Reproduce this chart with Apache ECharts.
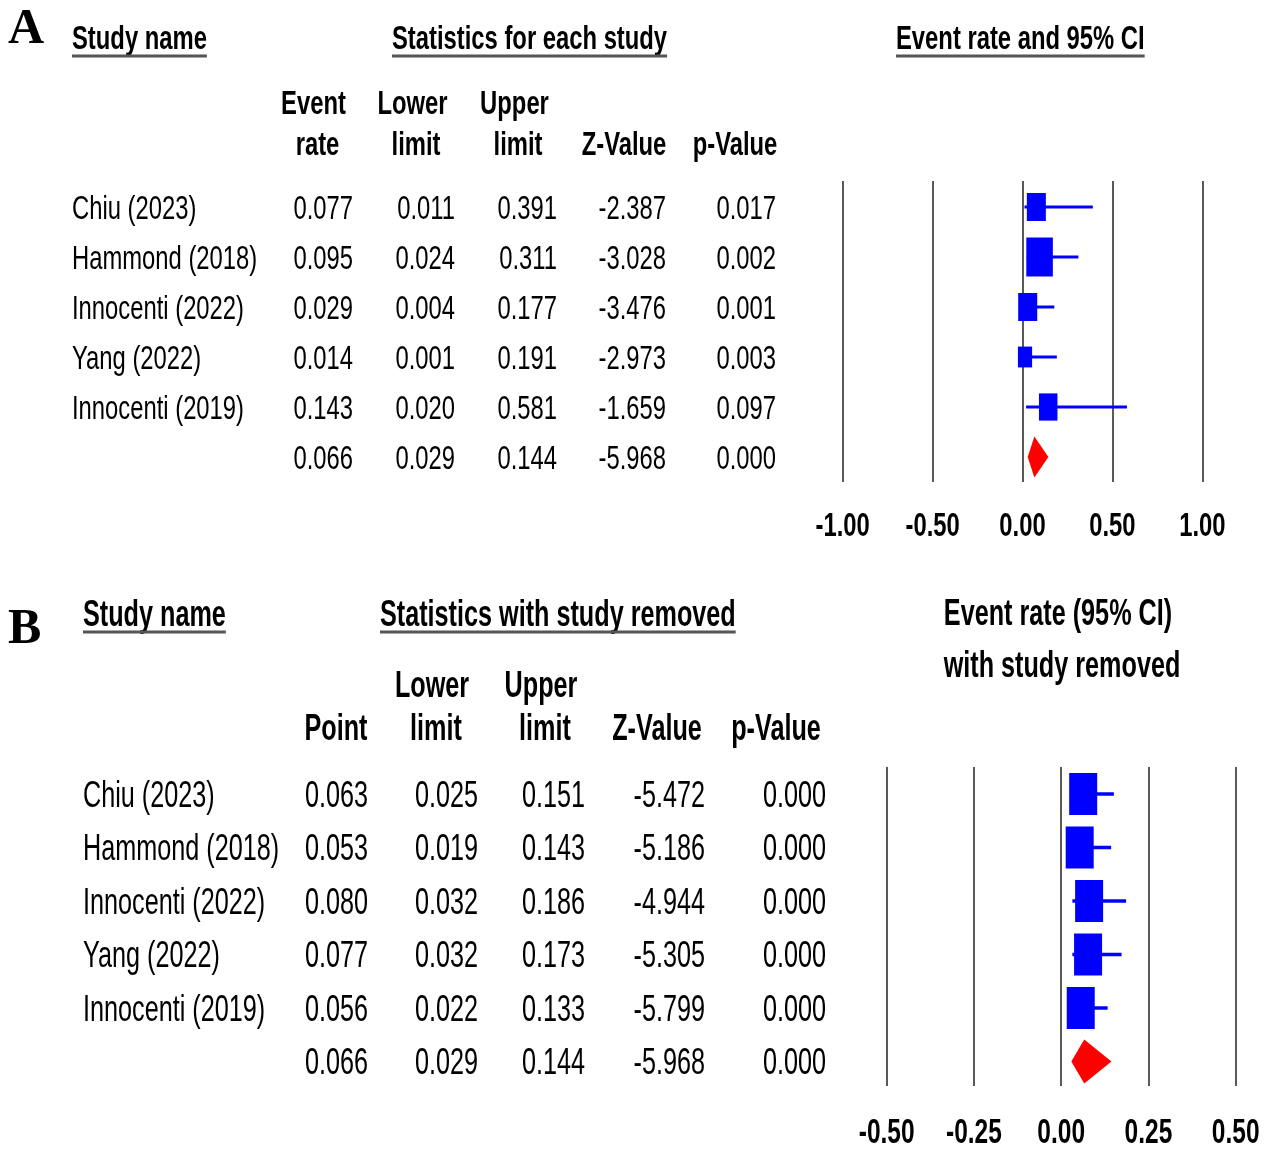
<!DOCTYPE html>
<html>
<head>
<meta charset="utf-8">
<script src="https://cdn.jsdelivr.net/npm/echarts@6/dist/echarts.min.js"></script>
<style>
html,body{margin:0;padding:0;background:#fff;}
#chart{width:1268px;height:1154px;}
</style>
</head>
<body>
<div id="chart"></div>
<script>
// ---------------- data ----------------
const studies = ['Chiu (2023)', 'Hammond (2018)', 'Innocenti (2022)', 'Yang (2022)', 'Innocenti (2019)'];

// Panel A: statistics for each study
const rateA  = [0.077, 0.095, 0.029, 0.014, 0.143];
const lowerA = [0.011, 0.024, 0.004, 0.001, 0.020];
const upperA = [0.391, 0.311, 0.177, 0.191, 0.581];
const zA     = [-2.387, -3.028, -3.476, -2.973, -1.659];
const pA     = [0.017, 0.002, 0.001, 0.003, 0.097];
const weightA = [18, 35, 18, 10, 17];          // relative weight (%)
const pooledA = [0.066, 0.029, 0.144, -5.968, 0.000]; // point, lower, upper, z, p

// Panel B: statistics with study removed
const pointB = [0.063, 0.053, 0.080, 0.077, 0.056];
const lowerB = [0.025, 0.019, 0.032, 0.032, 0.022];
const upperB = [0.151, 0.143, 0.186, 0.173, 0.133];
const zB     = [-5.472, -5.186, -4.944, -5.305, -5.799];
const pB     = [0.000, 0.000, 0.000, 0.000, 0.000];
const pooledB = [0.066, 0.029, 0.144, -5.968, 0.000];

const ticksA = [-1.00, -0.50, 0.00, 0.50, 1.00];
const ticksB = [-0.50, -0.25, 0.00, 0.25, 0.50];

// ---------------- layout / style ----------------
const FONT = "'Liberation Sans', Arial, Helvetica, sans-serif";
const SERIF = "'Liberation Serif', 'Times New Roman', serif";
const SX = 0.7;
const DY = 3;
const BLUE = '#0000ff', RED = '#ff0000', GRID = '#5a5a5a', INK = '#000';

const L = {
  A: { top: 181, height: 301, ymin: -0.52, ymax: 5.5, plotLeft: 842.7, plotWidth: 359.6,
       nameX: 72, cols: [353, 455, 557, 666, 776], font: 34, tickFont: 34, tickOff: 42 },
  B: { top: 767, height: 319, ymin: -0.505, ymax: 5.458, plotLeft: 886.7, plotWidth: 349,
       nameX: 83, cols: [368, 478, 585, 705, 826], font: 36, tickFont: 35, tickOff: 44 }
};

const measure = (function () {
  const ctx = document.createElement('canvas').getContext('2d');
  return function (text, size, bold) {
    ctx.font = (bold ? 'bold ' : '') + size + 'px ' + FONT;
    return ctx.measureText(text).width * SX;
  };
})();

function textEl(x, y, text, size, opts) {
  opts = opts || {};
  const align = opts.align || 'left';
  return {
    type: 'text', x: x, y: y + (opts.noScale ? 2 : DY), scaleX: opts.noScale ? 1 : SX, silent: true,
    style: {
      text: text, fontSize: size, fontWeight: opts.bold ? 'bold' : 'normal',
      fontFamily: opts.family || FONT, fill: INK,
      align: align, textAlign: align, verticalAlign: 'middle', textVerticalAlign: 'middle'
    }
  };
}
function underlined(x, y, text, size, lineY) {
  const w = measure(text, size, true);
  return [
    textEl(x, y, text, size, { bold: true }),
    { type: 'line', silent: true, shape: { x1: x, y1: lineY, x2: x + w, y2: lineY },
      style: { stroke: '#555', lineWidth: 3 } }
  ];
}

const graphics = [].concat(
  [textEl(8, 28, 'A', 50, { bold: true, family: SERIF, noScale: true })],
  underlined(72, 37, 'Study name', 34, 56),
  underlined(392, 37, 'Statistics for each study', 34, 56),
  underlined(896, 37, 'Event rate and 95% CI', 34, 56),
  [
    textEl(313.5, 102, 'Event', 34, { bold: true, align: 'center' }),
    textEl(317.5, 143, 'rate', 34, { bold: true, align: 'center' }),
    textEl(412.5, 102, 'Lower', 34, { bold: true, align: 'center' }),
    textEl(416, 143, 'limit', 34, { bold: true, align: 'center' }),
    textEl(514.5, 102, 'Upper', 34, { bold: true, align: 'center' }),
    textEl(518, 143, 'limit', 34, { bold: true, align: 'center' }),
    textEl(624, 143, 'Z-Value', 34, { bold: true, align: 'center' }),
    textEl(735, 143, 'p-Value', 34, { bold: true, align: 'center' })
  ],
  [textEl(8, 628, 'B', 50, { bold: true, family: SERIF, noScale: true })],
  underlined(83, 613, 'Study name', 36, 632),
  underlined(380, 613, 'Statistics with study removed', 36, 632),
  [
    textEl(1058, 612, 'Event rate (95% CI)', 36, { bold: true, align: 'center' }),
    textEl(1062, 664, 'with study removed', 36, { bold: true, align: 'center' }),
    textEl(432, 684, 'Lower', 36, { bold: true, align: 'center' }),
    textEl(541, 684, 'Upper', 36, { bold: true, align: 'center' }),
    textEl(336, 727, 'Point', 36, { bold: true, align: 'center' }),
    textEl(436, 727, 'limit', 36, { bold: true, align: 'center' }),
    textEl(545, 727, 'limit', 36, { bold: true, align: 'center' }),
    textEl(657, 727, 'Z-Value', 36, { bold: true, align: 'center' }),
    textEl(776, 727, 'p-Value', 36, { bold: true, align: 'center' })
  ]
);

// ---------------- helpers for series ----------------
function tableData() {
  const out = [];
  for (let r = 0; r < 6; r++) for (let c = 0; c < 6; c++) out.push([c, r]);
  return out;
}
function makeTableRender(lay, colsArr, pooled) {
  return function (params, api) {
    const c = api.value(0), r = api.value(1);
    const y = api.coord([0, r])[1];
    let text;
    if (c === 0) text = r < 5 ? studies[r] : '';
    else text = (r < 5 ? colsArr[c - 1][r] : pooled[c - 1]).toFixed(3);
    const x = c === 0 ? lay.nameX : lay.cols[c - 1];
    return textEl(x, y, text, lay.font, { align: c === 0 ? 'left' : 'right' });
  };
}
function makeStudyRender(sizeFn, lw) {
  return function (params, api) {
    const r = api.value(1);
    const p = api.coord([api.value(0), r]);
    const lo = api.coord([api.value(2), r]);
    const hi = api.coord([api.value(3), r]);
    const s = sizeFn(api.value(4));
    return {
      type: 'group',
      children: [
        { type: 'line', shape: { x1: lo[0], y1: p[1], x2: hi[0], y2: p[1] },
          style: { stroke: BLUE, lineWidth: lw } },
        { type: 'rect', shape: { x: p[0] - s.w / 2, y: p[1] - s.h / 2, width: s.w, height: s.h },
          style: { fill: BLUE } }
      ]
    };
  };
}
function makeDiamondRender(halfH) {
  return function (params, api) {
    const r = api.value(1);
    const p = api.coord([api.value(0), r]);
    const lo = api.coord([api.value(2), r]);
    const hi = api.coord([api.value(3), r]);
    return {
      type: 'polygon',
      shape: { points: [[lo[0], p[1]], [p[0], p[1] - halfH], [hi[0], p[1]], [p[0], p[1] + halfH]] },
      style: { fill: RED }
    };
  };
}
function makeTickRender(lay) {
  return function (params, api) {
    const cs = params.coordSys;
    const v = api.value(0);
    const x = api.coord([v, 0])[0];
    return textEl(x, cs.y + cs.height + lay.tickOff, v.toFixed(2), lay.tickFont, { bold: true, align: 'center' });
  };
}

const hiddenAxis = { show: false, splitLine: { show: false } };

const option = {
  backgroundColor: '#fff',
  animation: false,
  graphic: { elements: graphics },
  grid: [
    { left: 0, top: L.A.top, width: 1268, height: L.A.height },
    { left: L.A.plotLeft, top: L.A.top, width: L.A.plotWidth, height: L.A.height },
    { left: 0, top: L.B.top, width: 1268, height: L.B.height },
    { left: L.B.plotLeft, top: L.B.top, width: L.B.plotWidth, height: L.B.height }
  ],
  xAxis: [
    Object.assign({ type: 'value', gridIndex: 0, min: 0, max: 1 }, hiddenAxis),
    { type: 'value', gridIndex: 1, min: ticksA[0], max: ticksA[ticksA.length - 1], interval: 0.5,
      axisLine: { show: false }, axisTick: { show: false }, axisLabel: { show: false },
      splitLine: { show: true, showMinLine: true, showMaxLine: true, lineStyle: { color: GRID, width: 2 } } },
    Object.assign({ type: 'value', gridIndex: 2, min: 0, max: 1 }, hiddenAxis),
    { type: 'value', gridIndex: 3, min: ticksB[0], max: ticksB[ticksB.length - 1], interval: 0.25,
      axisLine: { show: false }, axisTick: { show: false }, axisLabel: { show: false },
      splitLine: { show: true, showMinLine: true, showMaxLine: true, lineStyle: { color: GRID, width: 2 } } }
  ],
  yAxis: [
    Object.assign({ type: 'value', gridIndex: 0, min: L.A.ymin, max: L.A.ymax, inverse: true }, hiddenAxis),
    Object.assign({ type: 'value', gridIndex: 1, min: L.A.ymin, max: L.A.ymax, inverse: true }, hiddenAxis),
    Object.assign({ type: 'value', gridIndex: 2, min: L.B.ymin, max: L.B.ymax, inverse: true }, hiddenAxis),
    Object.assign({ type: 'value', gridIndex: 3, min: L.B.ymin, max: L.B.ymax, inverse: true }, hiddenAxis)
  ],
  series: [
    { type: 'custom', name: 'tableA', xAxisIndex: 0, yAxisIndex: 0, silent: true,
      data: tableData(), renderItem: makeTableRender(L.A, [rateA, lowerA, upperA, zA, pA], pooledA) },
    { type: 'custom', name: 'studiesA', xAxisIndex: 1, yAxisIndex: 1, silent: true,
      data: rateA.map((v, i) => [v, i, lowerA[i], upperA[i], weightA[i]]),
      renderItem: makeStudyRender(w => { const h = 6.6 * Math.sqrt(w); return { w: h * 0.68, h: h }; }, 3) },
    { type: 'custom', name: 'pooledA', xAxisIndex: 1, yAxisIndex: 1, silent: true,
      data: [[pooledA[0], 5, pooledA[1], pooledA[2]]], renderItem: makeDiamondRender(20.5) },
    { type: 'custom', name: 'ticksA', xAxisIndex: 1, yAxisIndex: 1, silent: true,
      data: ticksA.map(v => [v, 0]), renderItem: makeTickRender(L.A) },

    { type: 'custom', name: 'tableB', xAxisIndex: 2, yAxisIndex: 2, silent: true,
      data: tableData(), renderItem: makeTableRender(L.B, [pointB, lowerB, upperB, zB, pB], pooledB) },
    { type: 'custom', name: 'studiesB', xAxisIndex: 3, yAxisIndex: 3, silent: true,
      data: pointB.map((v, i) => [v, i, lowerB[i], upperB[i], 1]),
      renderItem: makeStudyRender(() => ({ w: 28, h: 42 }), 3.5) },
    { type: 'custom', name: 'pooledB', xAxisIndex: 3, yAxisIndex: 3, silent: true,
      data: [[pooledB[0], 5, pooledB[1], pooledB[2]]], renderItem: makeDiamondRender(22) },
    { type: 'custom', name: 'ticksB', xAxisIndex: 3, yAxisIndex: 3, silent: true,
      data: ticksB.map(v => [v, 0]), renderItem: makeTickRender(L.B) }
  ]
};

const chart = echarts.init(document.getElementById('chart'), null, { renderer: 'canvas' });
chart.setOption(option);
</script>
</body>
</html>
